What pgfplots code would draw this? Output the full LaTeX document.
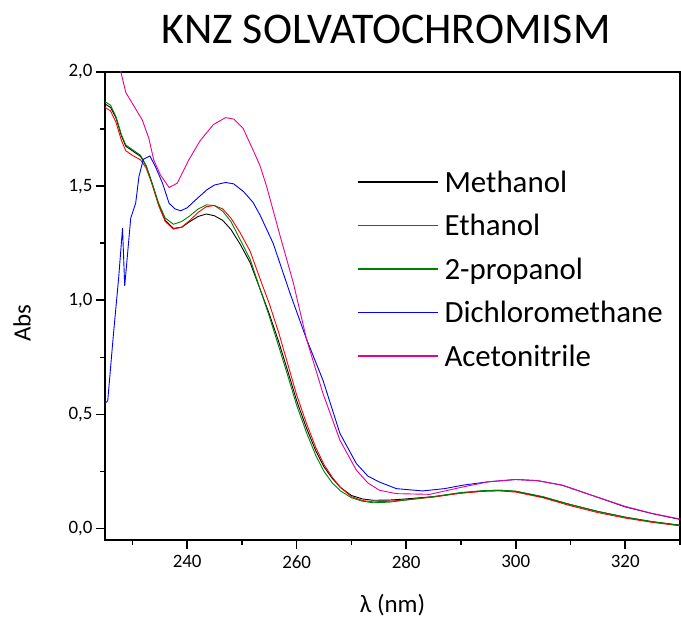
\documentclass[border=0pt]{standalone}
\usepackage{fontspec}
\setmainfont{Carlito}
\usepackage{pgfplots}
\pgfplotsset{compat=1.18}
\definecolor{dgreen}{RGB}{0,128,0}
\begin{document}
\begin{tikzpicture}
\begin{axis}[
  scale only axis,
  width=575bp, height=468bp,
  xmin=225, xmax=330, ymin=-0.05, ymax=2.0,
  axis line style={line width=1.6bp, black},
  xtick={240,260,280,300,320},
  minor xtick={230,250,270,290,310,330},
  ytick={0,0.5,1,1.5,2},
  minor ytick={0.25,0.75,1.25,1.75},
  xtick pos=left, ytick pos=left,
  tick align=outside,
  major tick length=9bp, minor tick length=5bp,
  every tick/.style={black, line width=1.6bp},
  tick label style={font=\fontsize{19}{19}\selectfont},
  /pgf/number format/assume math mode=true,
  yticklabel style={/pgf/number format/.cd, use comma, fixed, fixed zerofill, precision=1},
  xticklabel style={yshift=-3bp, /pgf/number format/.cd, 1000 sep={}},
  xlabel={λ (nm)},
  ylabel={Abs},
  label style={font=\fontsize{25}{25}\selectfont},
  xlabel style={at={(axis description cs:0.5,0)}, anchor=base, yshift=-72bp},
  ylabel style={at={(axis description cs:-0.1443,0.4637)}, anchor=center},
  title={KNZ SOLVATOCHROMISM},
  title style={font=\fontsize{44}{44}\selectfont, at={(axis description cs:0.4887,1)}, anchor=base, yshift=23bp},
  legend style={at={(axis description cs:0.438,0.7906)}, anchor=north west, draw=none, fill=none, inner sep=0pt,
    font=\fontsize{31}{31}\selectfont, row sep=15.5bp, column sep=6bp,
    nodes={inner sep=0pt, text height=22bp, text depth=6bp}},
  legend cell align=left,
  legend image code/.code={\draw[#1, line width=1.5bp] (0bp,2bp) -- (80bp,2bp);},
  every axis plot/.append style={line width=0.9bp},
]
\addplot[black] coordinates {
(225.0,1.860) (226.0,1.845) (227.0,1.80) (228.0,1.72) (228.8,1.675) (230.0,1.655) (231.5,1.63) (232.5,1.59)
(233.5,1.52) (234.8,1.42) (236.0,1.35) (237.5,1.315) (239.0,1.320) (240.5,1.345) (242.0,1.367) (243.5,1.378)
(245.0,1.37) (246.5,1.35) (248.0,1.31) (249.7,1.245) (251.5,1.165) (253.3,1.05) (255.0,0.94) (256.7,0.82)
(258.5,0.68) (260.0,0.56) (261.8,0.44) (263.5,0.34) (265.0,0.27) (266.5,0.22) (268.0,0.18) (270.0,0.145)
(272.0,0.13) (274.0,0.124) (277.0,0.125) (280.0,0.13) (285.0,0.14) (290.0,0.156) (294.0,0.165) (297.0,0.168)
(300.0,0.163) (305.0,0.137) (310.0,0.105) (315.0,0.075) (320.0,0.05) (325.0,0.030) (330.0,0.015)
};
\addlegendentry{Methanol}
\addplot[red] coordinates {
(225.0,1.845) (226.0,1.83) (227.0,1.78) (228.0,1.70) (228.8,1.655) (230.0,1.635) (231.5,1.615) (232.5,1.58)
(233.5,1.515) (234.8,1.415) (236.0,1.345) (237.5,1.312) (239.0,1.320) (240.5,1.35) (242.0,1.385) (243.5,1.41)
(245.0,1.415) (246.5,1.40) (248.0,1.36) (249.7,1.295) (251.5,1.215) (253.3,1.095) (255.0,0.985) (256.7,0.86)
(258.5,0.71) (260.0,0.585) (261.8,0.46) (263.5,0.355) (265.0,0.28) (266.5,0.225) (268.0,0.18) (270.0,0.14)
(272.0,0.123) (274.0,0.117) (277.0,0.12) (280.0,0.126) (285.0,0.138) (290.0,0.155) (294.0,0.163) (297.0,0.165)
(300.0,0.16) (305.0,0.135) (310.0,0.10) (315.0,0.07) (320.0,0.046) (325.0,0.027) (330.0,0.012)
};
\addlegendentry{Ethanol}
\addplot[dgreen] coordinates {
(225.0,1.870) (226.0,1.855) (227.0,1.805) (228.0,1.725) (228.8,1.68) (230.0,1.66) (231.5,1.635) (232.5,1.59)
(233.5,1.52) (234.8,1.425) (236.0,1.36) (237.5,1.333) (239.0,1.345) (240.5,1.37) (242.0,1.40) (243.5,1.418)
(245.0,1.415) (246.5,1.39) (248.0,1.345) (249.7,1.265) (251.5,1.18) (253.3,1.05) (255.0,0.93) (256.7,0.80)
(258.5,0.66) (260.0,0.54) (261.8,0.42) (263.5,0.32) (265.0,0.25) (266.5,0.20) (268.0,0.165) (270.0,0.135)
(272.0,0.12) (274.0,0.113) (277.0,0.116) (280.0,0.125) (285.0,0.14) (290.0,0.158) (294.0,0.166) (297.0,0.168)
(300.0,0.164) (305.0,0.14) (310.0,0.105) (315.0,0.075) (320.0,0.05) (325.0,0.03) (330.0,0.014)
};
\addlegendentry{2-propanol}
\addplot[blue] coordinates {
(225.0,0.548) (225.5,0.56) (226.5,0.84) (227.5,1.10) (228.2,1.316) (228.6,1.063) (229.7,1.36) (230.6,1.425)
(231.2,1.542) (232.0,1.618) (233.2,1.632) (234.2,1.586) (235.5,1.513) (236.7,1.425) (237.8,1.40) (238.8,1.392)
(240.0,1.405) (241.2,1.432) (243.6,1.484) (245.0,1.505) (247.0,1.516) (248.5,1.51) (250.3,1.476) (252.0,1.43)
(253.3,1.374) (255.7,1.25) (258.8,1.03) (261.8,0.83) (264.8,0.65) (267.9,0.417) (270.9,0.285) (273.0,0.23)
(275.1,0.204) (278.2,0.175) (283.0,0.165) (287.0,0.175) (290.3,0.19) (295.0,0.205) (300.0,0.215) (304.0,0.21)
(308.5,0.19) (314.0,0.145) (320.0,0.095) (325.0,0.065) (330.0,0.04)
};
\addlegendentry{Dichloromethane}
\addplot[magenta] coordinates {
(226.5,2.15) (227.9,2.00) (228.8,1.91) (230.3,1.85) (231.8,1.79) (233.0,1.71) (233.9,1.615) (235.1,1.55)
(236.7,1.494) (238.2,1.513) (240.3,1.615) (242.4,1.70) (244.8,1.77) (247.0,1.80) (248.5,1.794) (250.2,1.754)
(252.0,1.66) (253.3,1.59) (254.5,1.50) (257.0,1.28) (259.4,1.075) (261.8,0.83) (264.8,0.592) (267.9,0.387)
(270.9,0.256) (273.0,0.20) (275.1,0.168) (278.2,0.153) (284.3,0.15) (290.3,0.182) (295.0,0.205) (300.0,0.215)
(304.0,0.21) (308.5,0.19) (314.0,0.145) (320.0,0.097) (325.0,0.066) (330.0,0.042)
};
\addlegendentry{Acetonitrile}
\end{axis}
\pgfresetboundingbox
\useasboundingbox (-105bp,-78bp) rectangle (576bp,540bp);
\end{tikzpicture}
\end{document}
